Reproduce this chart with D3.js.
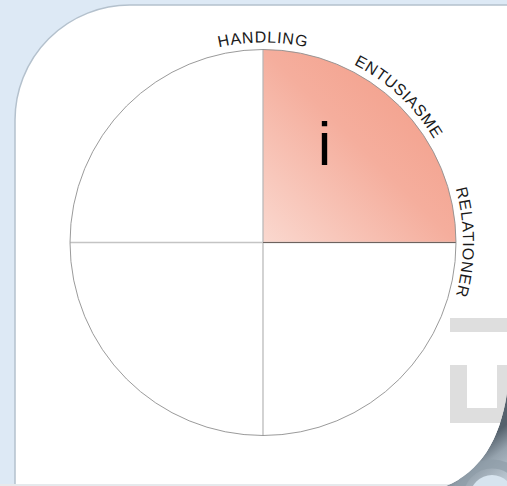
<!DOCTYPE html>
<html>
<head>
<meta charset="utf-8">
<script src="https://cdn.jsdelivr.net/npm/d3@7"></script>
<style>
  html, body { margin: 0; padding: 0; background: #dde9f5; }
  svg { display: block; }
  .lbl { font-family: "Liberation Sans", Arial, sans-serif; font-size: 16px; letter-spacing: 0.8px; fill: #1a1a1a; }
</style>
</head>
<body>
<div id="chart"></div>
<script>
// quadrants of the wheel, only one is filled
var quadrants = ["Q1", "Q2", "Q3", "Q4"]
var quadrantValues = [1, 1, 1, 1]
var activeQuadrant = "Q1"
var quadrantMark = "i"
// labels round the rim, angle in degrees from 12 o'clock
var rimLabels = ["HANDLING", "ENTUSIASME", "RELATIONER"]
var rimAngles = [0, 43, 90]

const width = 507, height = 486;
const cx = 263, cy = 242.5, radius = 193;

const svg = d3.select("#chart").append("svg")
  .attr("width", width)
  .attr("height", height);

const defs = svg.append("defs");

const grad = defs.append("linearGradient")
  .attr("id", "quadFill")
  .attr("x1", 0).attr("y1", 1).attr("x2", 1).attr("y2", 0);
grad.append("stop").attr("offset", "0%").attr("stop-color", "#fad8cf");
grad.append("stop").attr("offset", "50%").attr("stop-color", "#f5ae9d");
grad.append("stop").attr("offset", "100%").attr("stop-color", "#f29882");

// shading of the page curl: dark at the fold, lighter toward the corner
const curl = defs.append("linearGradient")
  .attr("id", "curlFill")
  .attr("gradientUnits", "userSpaceOnUse")
  .attr("x1", 478).attr("y1", 446).attr("x2", 510).attr("y2", 488);
curl.append("stop").attr("offset", "0%").attr("stop-color", "#55616c");
curl.append("stop").attr("offset", "35%").attr("stop-color", "#95a2ad");
curl.append("stop").attr("offset", "100%").attr("stop-color", "#c9d5df");

const curlPath = "M507,393 C500,440 480,472 446,486 L507,486 Z";
defs.append("clipPath").attr("id", "curlClip")
  .append("path").attr("d", curlPath);

// page card with rounded corner
svg.append("path")
  .attr("d", "M15,486 V120 A115,115 0 0 1 130,5 H509 V486 Z")
  .style("fill", "#ffffff")
  .style("stroke", "#b4c1cd")
  .style("stroke-width", 1.5);

svg.append("rect")
  .attr("x", 0).attr("y", 484).attr("width", width).attr("height", 2)
  .style("fill", "#e6e9ec");

// faint logo in the corner
const logo = svg.append("g").style("fill", "#dedede");
logo.append("rect").attr("x", 450).attr("y", 318).attr("width", 60).attr("height", 14);
logo.append("rect").attr("x", 450).attr("y", 365).attr("width", 17).attr("height", 58);
logo.append("rect").attr("x", 450).attr("y", 408).attr("width", 60).attr("height", 15);
logo.append("rect").attr("x", 497).attr("y", 365).attr("width", 12).attr("height", 58);

// page curl
const curlG = svg.append("g").attr("clip-path", "url(#curlClip)");
curlG.append("path").attr("d", curlPath).style("fill", "url(#curlFill)");
curlG.append("circle").attr("cx", 492).attr("cy", 497).attr("r", 33)
  .style("fill", "none").style("stroke", "#8f9ca8").style("stroke-width", 9).style("opacity", 0.7);
curlG.append("circle").attr("cx", 492).attr("cy", 497).attr("r", 22)
  .style("fill", "#d7e4ef");

// wheel
const g = svg.append("g").attr("transform", `translate(${cx},${cy})`);

const pie = d3.pie().sort(null).value(d => d.v);
const arc = d3.arc().innerRadius(0).outerRadius(radius);
const slices = pie(quadrants.map((q, i) => ({ q: q, v: quadrantValues[i] })));

g.append("circle")
  .attr("r", radius)
  .style("fill", "#ffffff");

g.selectAll(".quad")
  .data(slices)
  .enter().append("path")
    .attr("class", "quad")
    .attr("d", arc)
    .style("fill", d => d.data.q == activeQuadrant ? "url(#quadFill)" : "none")
    .style("stroke", "none");

g.append("line")
  .attr("x1", 0).attr("y1", -radius).attr("x2", 0).attr("y2", radius)
  .style("stroke", "#b5b5b5").style("stroke-width", 1.2);
g.append("line")
  .attr("x1", -radius).attr("y1", 0).attr("x2", radius).attr("y2", 0)
  .style("stroke", "#c4c4c4").style("stroke-width", 1.5);

// darker edge under the filled quadrant
const act = slices.find(d => d.data.q == activeQuadrant);
const edge = (a) => [radius * Math.sin(a), -radius * Math.cos(a)];
g.append("line")
  .attr("x1", 0).attr("y1", 0)
  .attr("x2", edge(act.endAngle)[0]).attr("y2", edge(act.endAngle)[1])
  .style("stroke", "#6d625e").style("stroke-width", 1.2);

g.append("circle")
  .attr("r", radius)
  .style("fill", "none")
  .style("stroke", "#8e8e8e")
  .style("stroke-width", 0.9);

// mark in the filled quadrant
const markA = act.startAngle + (act.endAngle - act.startAngle) * 0.36;
g.append("text")
  .attr("x", radius * 0.6 * Math.sin(markA) - 0.5)
  .attr("y", -radius * 0.6 * Math.cos(markA) + 20)
  .attr("text-anchor", "middle")
  .style("font-family", "Liberation Sans, Arial, sans-serif")
  .style("font-size", "61px")
  .style("fill", "#000")
  .text(quadrantMark);

// rim labels on arcs (paths live in the wheel group, so no extra offset)
const labelR = radius + 7;
const toRad = d3.scaleLinear().domain([0, 180]).range([0, Math.PI]);
const pt = (a) => [labelR * Math.sin(a), -labelR * Math.cos(a)];

rimLabels.forEach(function (name, i) {
  const a = toRad(rimAngles[i]);
  const p0 = pt(a - Math.PI / 2), p1 = pt(a + Math.PI / 2);
  g.append("path")
    .attr("id", "rim" + i)
    .attr("d", `M${p0[0]},${p0[1]} A${labelR},${labelR} 0 0 1 ${p1[0]},${p1[1]}`)
    .style("fill", "none")
    .style("stroke", "none");
  g.append("text")
    .attr("class", "lbl")
    .append("textPath")
      .attr("href", "#rim" + i)
      .attr("startOffset", "50%")
      .attr("text-anchor", "middle")
      .text(name);
});
</script>
</body>
</html>
